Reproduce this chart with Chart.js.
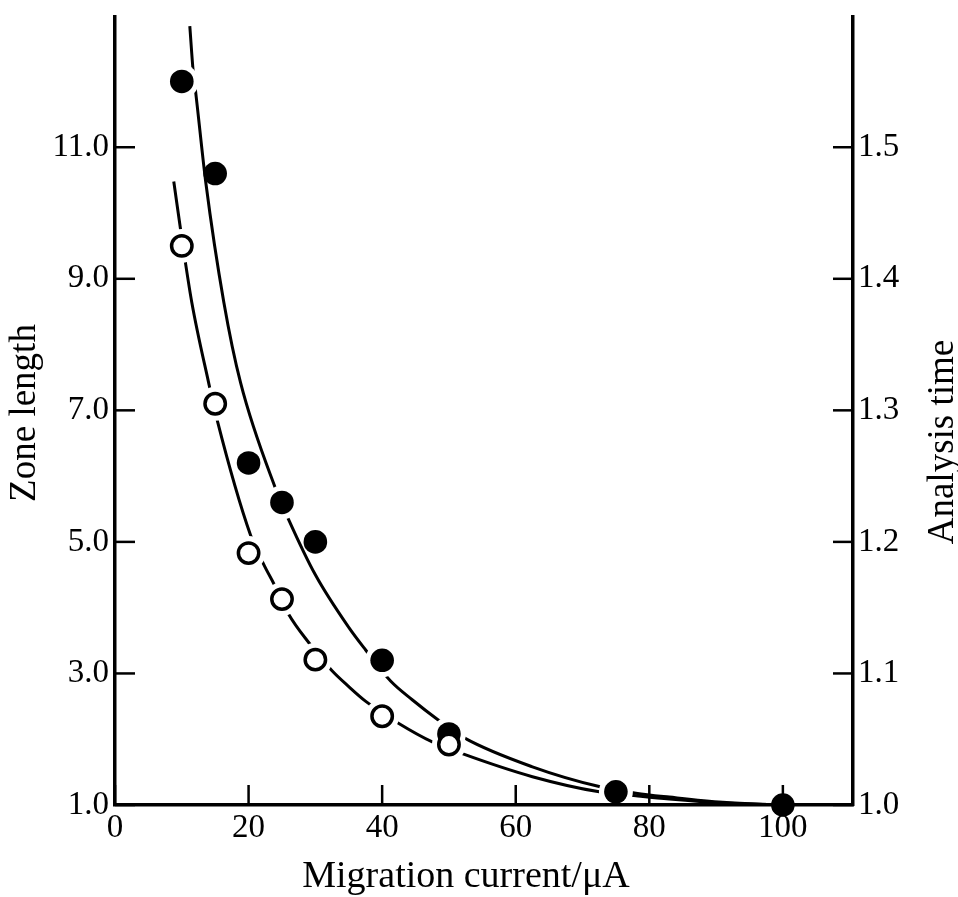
<!DOCTYPE html>
<html>
<head>
<meta charset="utf-8">
<title>Zone length and analysis time vs. migration current</title>
<script src="https://cdn.jsdelivr.net/npm/chart.js@4.4.1/dist/chart.umd.min.js"></script>
<style>
  html, body { margin: 0; padding: 0; background: #fff; }
  canvas { display: block; }
</style>
</head>
<body>
<canvas id="chart" width="958" height="897"></canvas>
<script>
// Measured runs: analysis time (filled circles, right axis)
const timeCurrent = [10, 15, 20, 25, 30, 40, 50, 75, 100];
const analysisTime = [1.55, 1.48, 1.26, 1.23, 1.20, 1.11, 1.054, 1.01, 1.00];

// Measured runs: zone length (open circles, left axis)
const zoneCurrent = [10, 15, 20, 25, 30, 40, 50];
const zoneLength = [9.50, 7.10, 4.83, 4.13, 3.21, 2.35, 1.92];

// Fitted curve through the analysis-time runs
const timeFitCurrent = [11.2, 11.7, 12.1, 13.6, 16.3, 18.8, 24.0, 26.0, 30.0, 35.0, 37.5, 41.3, 44.5, 48.3, 52.3, 62.5, 72.5, 78.0, 83.0, 91.0, 100];
const timeFitValue = [1.592, 1.558, 1.541, 1.473, 1.382, 1.321, 1.241, 1.217, 1.175, 1.135, 1.118, 1.094, 1.080, 1.065, 1.051, 1.029, 1.014, 1.009, 1.006, 1.002, 1.000];

// Fitted curve through the zone-length runs
const zoneFitCurrent = [8.8, 10.0, 11.5, 14.0, 15.3, 20.3, 22.3, 23.8, 26.0, 29.0, 32.5, 35.0, 37.5, 42.5, 47.5, 52.0, 62.5, 72.5, 78.0, 83.0, 91.0, 100];
const zoneFitValue = [10.48, 9.62, 8.64, 7.43, 6.85, 5.10, 4.65, 4.36, 3.90, 3.47, 3.04, 2.80, 2.58, 2.24, 1.96, 1.78, 1.43, 1.20, 1.14, 1.09, 1.03, 1.00];

// Runs where the fitted curve is interrupted around the marker
const timeBreaksAt = [10, 25, 40, 50, 75, 100];
const zoneBreaksAt = [10, 15, 20, 25, 30, 40, 50];

// Tick values
const currentTicks = [0, 20, 40, 60, 80, 100];
const zoneTicks = [1, 3, 5, 7, 9, 11];
const timeTicks = [1.0, 1.1, 1.2, 1.3, 1.4, 1.5];

// Axis titles
const xTitle = 'Migration current/\u03bcA';
const zoneTitle = 'Zone length';
const timeTitle = 'Analysis time';

const pts = (xs, ys) => xs.map((x, i) => ({ x: x, y: ys[i] }));
const only = (xs, ys, keep) => pts(xs, ys).filter(p => keep.includes(p.x));

const SERIF = '"Liberation Serif", "Times New Roman", serif';
const INK = '#000';

// Tick marks point into the plot area
const inwardTicks = {
  id: 'inwardTicks',
  afterDraw(chart) {
    const ctx = chart.ctx;
    const len = 20;
    ctx.save();
    ctx.strokeStyle = INK;
    ctx.lineWidth = 2.5;
    ['x', 'y', 'y2'].forEach(id => {
      const s = chart.scales[id];
      s.ticks.forEach((t, i) => {
        const p = s.getPixelForTick(i);
        ctx.beginPath();
        if (id === 'x') { ctx.moveTo(p, s.top); ctx.lineTo(p, s.top - len); }
        else if (id === 'y') { ctx.moveTo(s.right, p); ctx.lineTo(s.right + len, p); }
        else { ctx.moveTo(s.left, p); ctx.lineTo(s.left - len, p); }
        ctx.stroke();
      });
    });
    ctx.restore();
  }
};

// Axis titles; both vertical titles read bottom to top
const axisTitles = {
  id: 'axisTitles',
  afterDraw(chart) {
    const { ctx, chartArea: a } = chart;
    const midY = (a.top + a.bottom) / 2;
    ctx.save();
    ctx.fillStyle = INK;
    ctx.textAlign = 'center';
    ctx.textBaseline = 'alphabetic';
    ctx.font = '38px ' + SERIF;
    ctx.fillText(xTitle, (a.left + a.right) / 2 - 18, a.bottom + 82);

    ctx.font = '37px ' + SERIF;
    ctx.save();
    ctx.translate(a.left - 80, midY + 2);
    ctx.rotate(-Math.PI / 2);
    ctx.fillText(zoneTitle, 0, 0);
    ctx.restore();

    ctx.save();
    ctx.translate(a.right + 100, midY + 31);
    ctx.rotate(-Math.PI / 2);
    ctx.fillText(timeTitle, 0, 0);
    ctx.restore();
    ctx.restore();
  }
};

const tickFont = { family: SERIF, size: 33 };
const setTicks = values => scale => { scale.ticks = values.map(v => ({ value: v })); };
const noPad = s => { s.paddingTop = 0; s.paddingBottom = 0; s.paddingLeft = 0; s.paddingRight = 0; };

new Chart(document.getElementById('chart'), {
  type: 'scatter',
  data: {
    datasets: [
      {
        label: 'Zone length fit',
        data: pts(zoneFitCurrent, zoneFitValue),
        yAxisID: 'y',
        showLine: true,
        borderColor: INK,
        borderWidth: 3,
        pointRadius: 0,
        cubicInterpolationMode: 'monotone',
        order: 5
      },
      {
        label: 'Analysis time fit',
        data: pts(timeFitCurrent, timeFitValue),
        yAxisID: 'y2',
        showLine: true,
        borderColor: INK,
        borderWidth: 3,
        pointRadius: 0,
        cubicInterpolationMode: 'monotone',
        order: 5
      },
      {
        label: 'gap (time)',
        data: only(timeCurrent, analysisTime, timeBreaksAt),
        yAxisID: 'y2',
        pointRadius: 17,
        pointBackgroundColor: '#fff',
        pointBorderWidth: 0,
        order: 4
      },
      {
        label: 'gap (zone)',
        data: only(zoneCurrent, zoneLength, zoneBreaksAt),
        yAxisID: 'y',
        pointRadius: 17,
        pointBackgroundColor: '#fff',
        pointBorderWidth: 0,
        order: 4
      },
      {
        label: 'Analysis time',
        data: pts(timeCurrent, analysisTime),
        yAxisID: 'y2',
        pointRadius: 11.8,
        pointBackgroundColor: INK,
        pointBorderWidth: 0,
        clip: false,
        order: 2
      },
      {
        label: 'Zone length',
        data: pts(zoneCurrent, zoneLength),
        yAxisID: 'y',
        pointRadius: 10.2,
        pointBackgroundColor: '#fff',
        pointBorderColor: INK,
        pointBorderWidth: 3.5,
        clip: false,
        order: 1
      }
    ]
  },
  options: {
    responsive: false,
    animation: false,
    events: [],
    layout: { padding: { top: 13, left: 0, right: 0, bottom: 0 } },
    plugins: { legend: { display: false }, tooltip: { enabled: false } },
    scales: {
      x: {
        type: 'linear',
        position: 'bottom',
        min: 0,
        max: 110.5,
        afterBuildTicks: setTicks(currentTicks),
        afterFit: s => { s.height = 92; noPad(s); },
        grid: { display: false, drawTicks: false },
        border: { display: true, color: INK, width: 3.5, z: 1 },
        ticks: { font: tickFont, color: INK, padding: 4, maxRotation: 0, autoSkip: false, z: 1,
                 callback: v => String(v) }
      },
      y: {
        type: 'linear',
        position: 'left',
        min: 1,
        max: 12.98,
        afterBuildTicks: setTicks(zoneTicks),
        afterFit: s => { s.width = 115; noPad(s); },
        grid: { display: false, drawTicks: false },
        border: { display: true, color: INK, width: 3.5, z: 1 },
        ticks: { font: tickFont, color: INK, padding: 6, autoSkip: false, z: 1,
                 callback: v => Number(v).toFixed(1) }
      },
      y2: {
        type: 'linear',
        position: 'right',
        min: 1,
        max: 1.599,
        afterBuildTicks: setTicks(timeTicks),
        afterFit: s => { s.width = 105; noPad(s); },
        grid: { display: false, drawTicks: false },
        border: { display: true, color: INK, width: 3.5, z: 1 },
        ticks: { font: tickFont, color: INK, padding: 5, autoSkip: false, z: 1,
                 callback: v => Number(v).toFixed(1) }
      }
    }
  },
  plugins: [inwardTicks, axisTitles]
});
</script>
</body>
</html>
